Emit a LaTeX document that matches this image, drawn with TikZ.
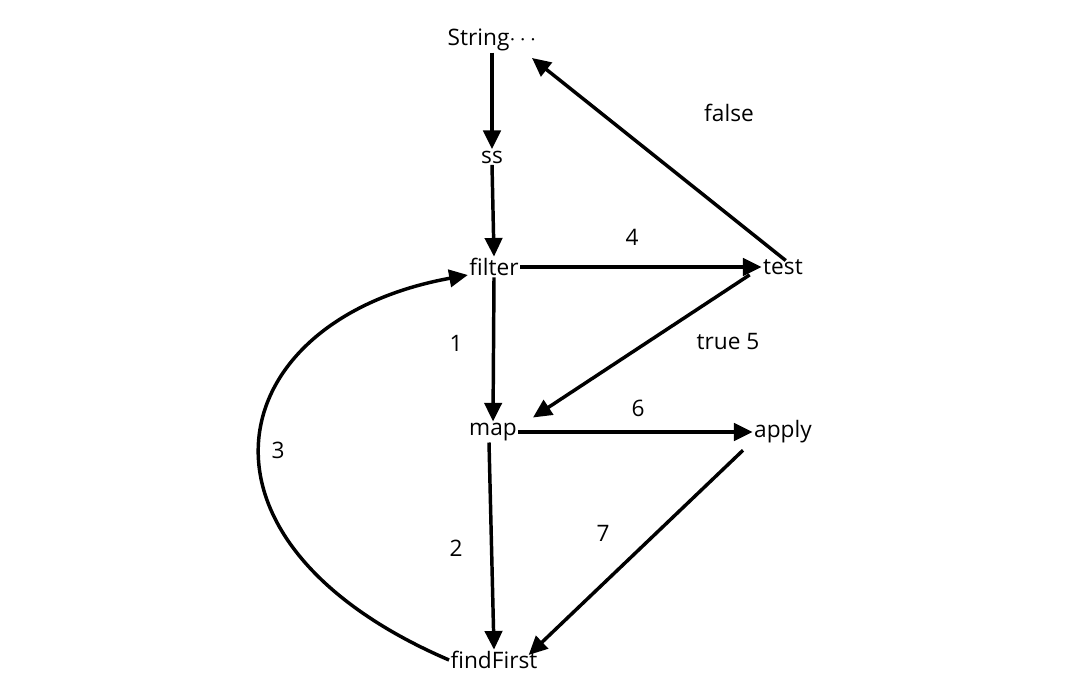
\documentclass[tikz,border=0pt]{standalone}
\usepackage{fontspec}
\setmainfont{Open Sans}
\usetikzlibrary{arrows.meta}
\begin{document}
\begin{tikzpicture}[x=0.75pt,y=-0.75pt,
  lbl/.style={font=\fontsize{17}{20}\selectfont, inner sep=1pt},
  arr/.style={line width=2.6pt, -{Triangle[length=14pt,width=13pt]}}]
\useasboundingbox (0,0) rectangle (1080,684);
\node[lbl] (str) at (492,40) {String$\cdots$};
\node[lbl] (ss) at (492,157) {ss};
\node[lbl] (filter) at (494,267) {filter};
\node[lbl] (test) at (783,267) {test};
\node[lbl] (map) at (493,432) {map};
\node[lbl] (apply) at (783,432) {apply};
\node[lbl] (ff) at (494,660) {findFirst};
\node[lbl] at (729,113) {false};
\node[lbl] at (632,237) {4};
\node[lbl] at (456,343) {1};
\node[lbl] at (728,342) {true 5};
\node[lbl] at (638,408) {6};
\node[lbl] at (278,450) {3};
\node[lbl] at (456,548) {2};
\node[lbl] at (603,533) {7};
\draw[arr] (str.south) -- (ss.north);
\draw[arr] (ss.south) -- (filter.north);
\draw[arr] (filter.east) -- (test.west);
\draw[arr] (test.north east) ++(-14pt,-2pt) coordinate (t1) (t1) -- ([xshift=30pt,yshift=-4pt]str.south);
\draw[arr] ([xshift=-25pt,yshift=1pt]test.south) coordinate (t2) (t2) -- ([xshift=30pt,yshift=3pt]map.north);
\draw[arr] (filter.south) -- (map.north);
\draw[arr] (map.east) -- (apply.west);
\draw[arr] ([xshift=-3pt]map.south) -- (ff.north);
\draw[arr] ([xshift=-30pt,yshift=-4pt]apply.south) coordinate (a2) (a2) -- ([xshift=26pt,yshift=-4pt]ff.north);
\draw[arr] (ff.west) ++(0,0) coordinate (f1) (f1) .. controls (170,540) and (220,320) .. ([yshift=-6pt]filter.west);
\end{tikzpicture}
\end{document}
